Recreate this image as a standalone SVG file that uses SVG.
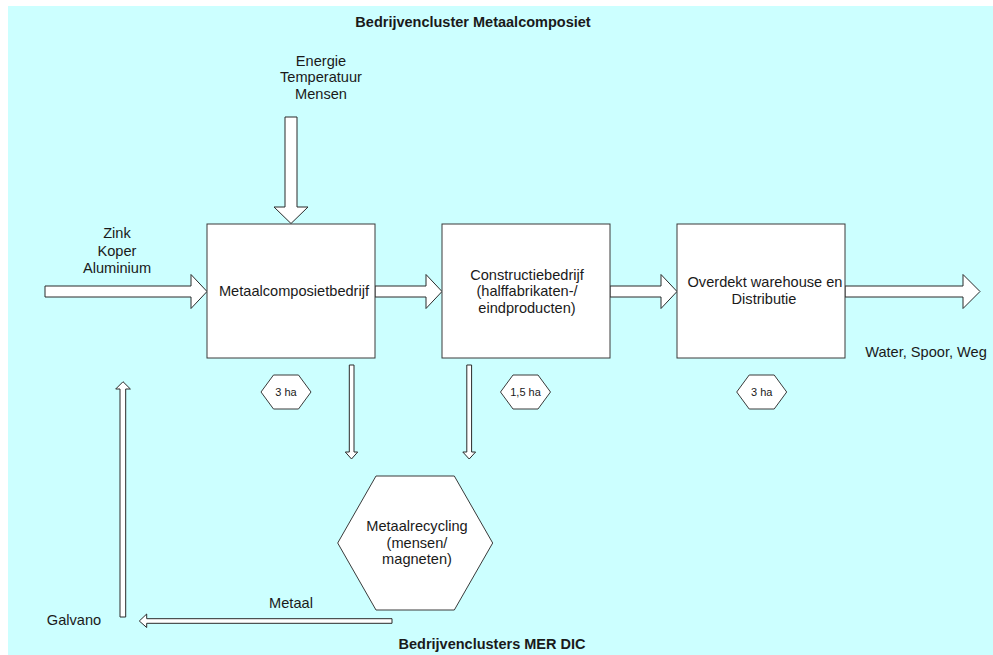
<svg xmlns="http://www.w3.org/2000/svg" width="993" height="655" viewBox="0 0 993 655">
<style>
text{font-family:"Liberation Sans",Arial,sans-serif;font-size:14.6px;fill:#1a1a1a;text-anchor:middle}
.b{font-weight:bold;font-size:14.5px}
.s{font-size:11px}
.box{fill:#fff;stroke:#3a3a3a;stroke-width:1}
.arr{fill:#fff;stroke:#2a2a2a;stroke-width:1;stroke-linejoin:miter}
</style>
<rect x="0" y="0" width="993" height="655" fill="#fff"/>
<rect x="8" y="6" width="985" height="649" fill="#CCFFFF"/>
<text class="b" x="473" y="27">Bedrijvencluster Metaalcomposiet</text>
<text class="b" x="492" y="649">Bedrijvenclusters MER DIC</text>

<g id="connectors">
<polygon class="arr" points="285,117 297,117 297,207 308,207 291,223.5 274,207 285,207"/>
<polygon class="arr" points="45,286 191,286 191,274.5 207,291.5 191,308.5 191,297 45,297"/>
<polygon class="arr" points="375,286 426,286 426,274.5 442,291.5 426,308.5 426,297 375,297"/>
<polygon class="arr" points="610,286 661,286 661,274.5 677,291.5 661,308.5 661,297 610,297"/>
<polygon class="arr" points="845,286 963,286 963,274.5 980,291.5 963,308.5 963,297 845,297"/>
<polygon class="arr" points="349.3,365 354,365 354,452 357.7,452 351.5,459 345.3,452 349.3,452"/>
<polygon class="arr" points="466.8,365 471.6,365 471.6,452 475.6,452 469.2,459 462.8,452 466.8,452"/>
<polygon class="arr" points="392,618.7 146.7,618.7 146.7,614 139.3,621 146.7,627.5 146.7,623.3 392,623.3"/>
<polygon class="arr" points="120,617 120,389 115.7,389 123,381.7 130.4,389 125.7,389 125.7,617"/>
</g>

<g id="input-top">
<text x="321" y="65.5">Energie</text>
<text x="321" y="82">Temperatuur</text>
<text x="321" y="98.5">Mensen</text>
</g>
<g id="input-left">
<text x="117" y="238">Zink</text>
<text x="117" y="255.5">Koper</text>
<text x="117" y="273">Aluminium</text>
</g>

<g id="metaalcomposietbedrijf">
<rect class="box" x="207" y="224" width="168" height="134"/>
<text x="294" y="296">Metaalcomposietbedrijf</text>
</g>
<g id="constructiebedrijf">
<rect class="box" x="442" y="224" width="168" height="134"/>
<text x="527" y="279.5">Constructiebedrijf</text>
<text x="527" y="296">(halffabrikaten-/</text>
<text x="527" y="312.5">eindproducten)</text>
</g>
<g id="warehouse">
<rect class="box" x="677" y="224" width="168" height="134"/>
<text x="765" y="287">Overdekt warehouse en</text>
<text x="764" y="304">Distributie</text>
</g>
<g id="output">
<text x="926" y="356.5">Water, Spoor, Weg</text>
</g>

<g id="area1">
<polygon class="box" points="261,392 273.5,375 298.5,375 311,392 298.5,409 273.5,409"/>
<text class="s" x="286" y="396">3 ha</text>
</g>
<g id="area2">
<polygon class="box" points="500.5,392 513,375 538,375 550.5,392 538,409 513,409"/>
<text class="s" x="525.5" y="396">1,5 ha</text>
</g>
<g id="area3">
<polygon class="box" points="736.7,392 749.2,375 774.2,375 786.7,392 774.2,409 749.2,409"/>
<text class="s" x="761.7" y="396">3 ha</text>
</g>

<g id="metaalrecycling">
<polygon class="box" points="337.7,543 376,476 454.3,476 492.7,543 454.3,610 376,610"/>
<text x="417" y="531">Metaalrecycling</text>
<text x="417" y="547.5">(mensen/</text>
<text x="417" y="564">magneten)</text>
</g>

<g id="labels">
<text x="291" y="607.5">Metaal</text>
<text x="74" y="625">Galvano</text>
</g>
</svg>
